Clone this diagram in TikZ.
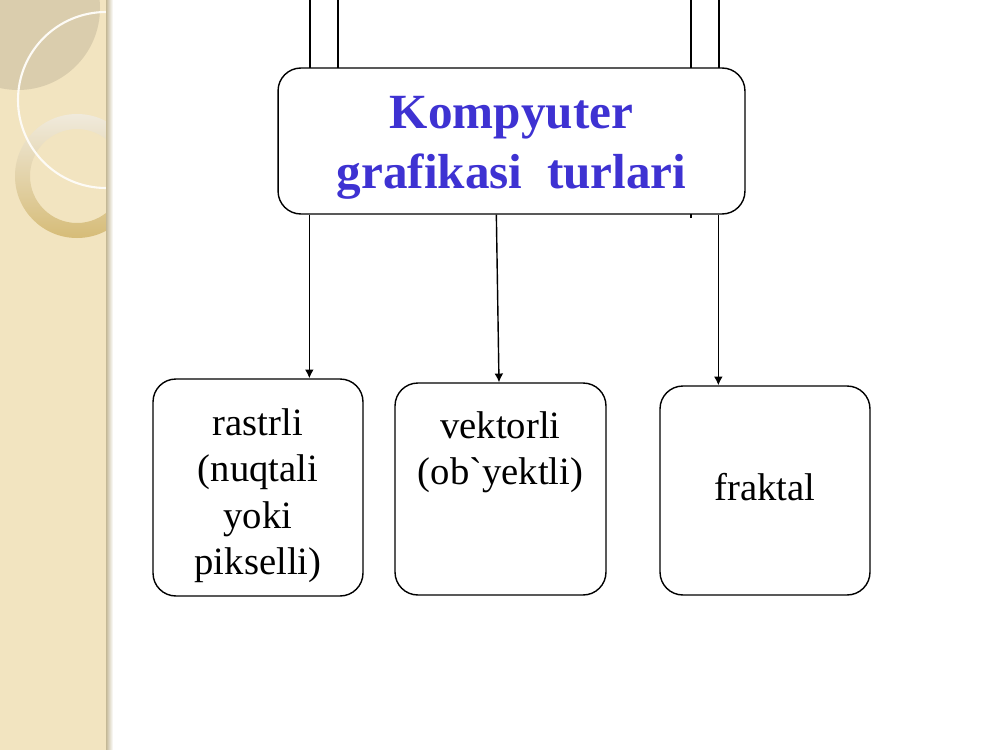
\documentclass[tikz,border=0pt]{standalone}
\usepackage{fontspec}
\setmainfont{Liberation Serif}
\newfontfamily\gravefont{Liberation Serif}[Ligatures=ResetAll]
\usetikzlibrary{arrows.meta,calc}
\definecolor{titleblue}{RGB}{62,50,210}
\definecolor{stripbeige}{RGB}{242,228,192}
\definecolor{stripedge}{RGB}{196,184,150}
\definecolor{ringgold}{RGB}{214,188,120}
\definecolor{ringlight}{RGB}{240,234,220}

\begin{document}
\begin{tikzpicture}[x=0.02cm, y=-0.02cm]
        \tikzstyle{pipe}=[draw=black, line width=0.8pt]
        \tikzstyle{kind box}=[draw=black, line width=0.8pt, fill=white, rounded corners=13pt, inner sep=0pt, shape=rectangle]
        \tikzstyle{kind text}=[align=center, inner sep=0pt, anchor=north, font=\fontsize{22pt}{26.5pt}\selectfont]
        \tikzstyle{title text}=[align=center, inner sep=0pt, text=titleblue, font=\fontsize{28pt}{34pt}\selectfont\bfseries]
        \tikzstyle{drop arrow}=[-{Latex[length=5pt,width=5pt]}, line width=0.8pt]
        \useasboundingbox (0,0) rectangle (1000,750);
        % left strip
        \fill[white] (0,0) rectangle (1000,750);
        \begin{scope}
            \clip (0,0) rectangle (108,750);
            \fill[stripbeige] (0,0) rectangle (108,750);
            \fill[black!10!stripbeige] (18,8) circle (82);
            \shade[top color=ringlight, bottom color=ringgold, even odd rule] (77,176) circle (62) (77,176) circle (47);
            \draw[white!85!stripbeige, line width=1.2pt] (106,100) circle (88);
        \end{scope}
        \shade[left color=stripedge, right color=white] (106,0) rectangle (113,750);
        % pipes behind the title
        \draw[style=pipe] (310,150) -- (310,-5) -- (338,-5) -- (338,150);
        \draw[style=pipe] (691,218) -- (691,-5) -- (719,-5) -- (719,150);
        % boxes
        \node [style=kind box, minimum width=9.34cm, minimum height=2.92cm] (kinds) at (511.5,141) {};
        \node [style=title text] (kindstitle) at (511.5,148) {Kompyuter\\grafikasi~~turlari};
        \node [style=kind box, minimum width=4.2cm, minimum height=4.34cm] (raster) at (258,487.5) {};
        \node [style=kind box, minimum width=4.22cm, minimum height=4.24cm] (vector) at (500.5,489) {};
        \node [style=kind box, minimum width=4.2cm, minimum height=4.18cm] (fractal) at (765,490.5) {};
        \node [style=kind text] (rastertext) at (258,408) {rastrli\\(nuqtali\\yoki\\pikselli)};
        \node [style=kind text] (vectortext) at (500.5,411) {vektorli\\(ob{\gravefont`}yektli)};
        \node [style=kind text, anchor=base] (fractaltext) at (765,500) {fraktal};
        % connectors
        \coordinate (rasterdrop) at ($(kinds.south west)+(32,0)$);
        \coordinate (vectordrop) at ($(kinds.south west)+(219,0)$);
        \coordinate (fractaldrop) at ($(kinds.south west)+(441,0)$);
        \draw [style=drop arrow] (rasterdrop) to (rasterdrop |- raster.north);
        \draw [style=drop arrow] (vectordrop) to ($(vector.north)+(-1.5,0)$);
        \draw [style=drop arrow] (fractaldrop) to (fractaldrop |- fractal.north);
    \end{tikzpicture}
\end{document}
